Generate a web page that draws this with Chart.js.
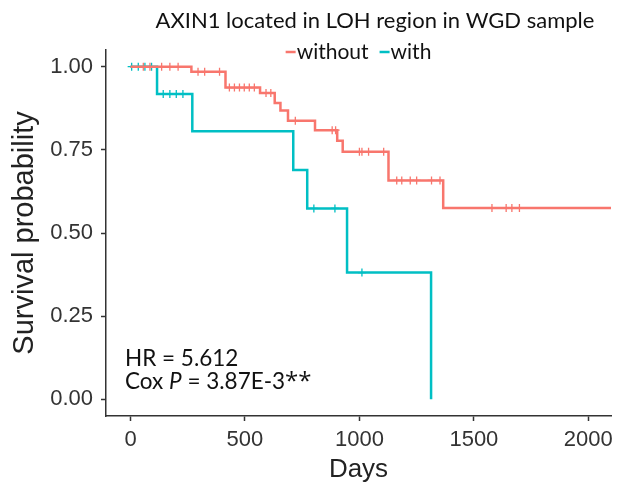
<!DOCTYPE html>
<html>
<head>
<meta charset="utf-8">
<script src="https://cdn.jsdelivr.net/npm/chart.js@4/dist/chart.umd.min.js"></script>
<style>
  html, body { margin: 0; background: #fff; }
  #wrap { width: 618px; height: 485px; }
</style>
</head>
<body>
<div id="wrap"><canvas id="km"></canvas></div>
<script>
// Kaplan-Meier steps
const withoutDays = [0, 266, 415, 566, 630, 655, 688, 806, 903, 927, 1127, 1366, 2099];
const withoutSurv = [1, 0.985, 0.937, 0.921, 0.891, 0.868, 0.837, 0.809, 0.777, 0.744, 0.658, 0.575, 0.575];
const withDays = [0, 116, 270, 711, 772, 946, 1313];
const withSurv = [1, 0.918, 0.806, 0.689, 0.574, 0.381, 0];

// censored observations (days), with the survival level they sit on
const withoutCensorDays = [56, 85, 136, 172, 208, 295, 324, 389, 432, 454, 476, 497, 519, 541, 592, 613, 720, 881, 896, 1000, 1011, 1040, 1106, 1163, 1185, 1222, 1250, 1315, 1352, 1579, 1641, 1666, 1699];
const withoutCensorSurv = [1, 1, 1, 1, 1, 0.985, 0.985, 0.985, 0.937, 0.937, 0.937, 0.937, 0.937, 0.937, 0.921, 0.921, 0.837, 0.809, 0.809, 0.744, 0.744, 0.744, 0.744, 0.658, 0.658, 0.658, 0.658, 0.658, 0.658, 0.575, 0.575, 0.575, 0.575];
const withCensorDays = [5, 34, 63, 92, 143, 172, 200, 229, 801, 893, 1011];
const withCensorSurv = [1, 1, 1, 1, 0.918, 0.918, 0.918, 0.918, 0.574, 0.574, 0.381];

const xTicks = [0, 500, 1000, 1500, 2000];
const yTicks = [0, 0.25, 0.5, 0.75, 1];

const RED = '#F8766D';
const TEAL = '#00BFC4';
const AXIS = '#333333';

const toPoints = (xs, ys) => xs.map((x, i) => ({ x: x, y: ys[i] }));

const titlePlugin = {
  id: 'kmTitle',
  afterDraw(chart) {
    const ctx = chart.ctx;
    ctx.save();
    ctx.fillStyle = '#111';
    ctx.font = '22px Lato';
    ctx.textAlign = 'center';
    ctx.textBaseline = 'alphabetic';
    ctx.fillText('AXIN1 located in LOH region in WGD sample', 375, 28);

    // legend: short coloured line + label for each curve
    const items = chart.data.datasets.filter(d => d.type === 'line');
    ctx.font = '21px Lato';
    const mark = 10, gap = 1, spacing = 11;
    const widths = items.map(d => mark + gap + ctx.measureText(d.label).width);
    const total = widths.reduce((a, b) => a + b, 0) + spacing * (items.length - 1);
    let x = 358.5 - total / 2;
    const y = 52;
    ctx.textAlign = 'left';
    ctx.textBaseline = 'middle';
    items.forEach((d, i) => {
      ctx.strokeStyle = d.borderColor;
      ctx.lineWidth = 2.5;
      ctx.beginPath();
      ctx.moveTo(x, y);
      ctx.lineTo(x + mark, y);
      ctx.stroke();
      ctx.fillStyle = '#111';
      ctx.fillText(d.label, x + mark + gap, y);
      x += widths[i] + spacing;
    });

    // HR / Cox P annotation
    const left = chart.chartArea.left + 19;
    ctx.textBaseline = 'alphabetic';
    ctx.font = '22.5px Lato';
    ctx.fillText('HR = 5.612', left, 366);
    let cx = left;
    const parts = [['Cox ', '22.5px Lato'], ['P', 'italic 22.5px Lato'], [' = 3.87E-3', '22.5px Lato'], ['**', '24px "Open Sans"']];
    parts.forEach(p => {
      ctx.font = p[1];
      ctx.fillText(p[0], cx, 389);
      cx += ctx.measureText(p[0]).width;
    });
    ctx.restore();
  }
};

new Chart(document.getElementById('km'), {
  type: 'line',
  data: {
    datasets: [
      {
        type: 'line',
        label: 'without',
        data: toPoints(withoutDays, withoutSurv),
        stepped: 'before',
        borderColor: RED,
        borderWidth: 2.5,
        pointRadius: 0,
        fill: false
      },
      {
        type: 'line',
        label: 'with',
        data: toPoints(withDays, withSurv),
        stepped: 'before',
        borderColor: TEAL,
        borderWidth: 2.5,
        pointRadius: 0,
        fill: false
      },
      {
        type: 'scatter',
        label: 'without censored',
        data: toPoints(withoutCensorDays, withoutCensorSurv),
        pointStyle: 'cross',
        pointRadius: 4,
        borderColor: RED,
        borderWidth: 1.3
      },
      {
        type: 'scatter',
        label: 'with censored',
        data: toPoints(withCensorDays, withCensorSurv),
        pointStyle: 'cross',
        pointRadius: 4,
        borderColor: TEAL,
        borderWidth: 1.3
      }
    ]
  },
  options: {
    responsive: true,
    maintainAspectRatio: false,
    animation: false,
    layout: { padding: { top: 50, right: 7, left: 0, bottom: 0 } },
    plugins: {
      legend: { display: false },
      title: { display: false },
      tooltip: { enabled: false }
    },
    scales: {
      x: {
        type: 'linear',
        min: -107,
        max: 2099,
        afterFit: s => { s.height = 69; s.paddingLeft = 0; s.paddingRight = 0; },
        afterBuildTicks: s => { s.ticks = xTicks.map(v => ({ value: v })); },
        ticks: {
          color: AXIS,
          font: { family: 'Liberation Sans', size: 22 },
          padding: 6,
          maxRotation: 0,
          callback: v => String(v)
        },
        grid: { display: true, drawOnChartArea: false, drawTicks: true, tickLength: 5, tickColor: AXIS, tickWidth: 1.5 },
        border: { display: true, color: AXIS, width: 1.5 },
        title: {
          display: true,
          text: 'Days',
          color: '#222',
          font: { family: 'Liberation Sans', size: 26 },
          padding: { top: 6, bottom: 0 }
        }
      },
      y: {
        min: -0.05,
        max: 1.05,
        afterFit: s => { s.width = 106; },
        afterBuildTicks: s => { s.ticks = yTicks.map(v => ({ value: v })); },
        ticks: {
          color: AXIS,
          font: { family: 'Liberation Sans', size: 22 },
          padding: 8,
          callback: v => v.toFixed(2)
        },
        grid: { display: true, drawOnChartArea: false, drawTicks: true, tickLength: 5, tickColor: AXIS, tickWidth: 1.5 },
        border: { display: true, color: AXIS, width: 1.5 },
        title: {
          display: true,
          text: 'Survival probability',
          color: '#222',
          font: { family: 'Liberation Sans', size: 29 },
          padding: { top: 8, bottom: 0 }
        }
      }
    }
  },
  plugins: [titlePlugin]
});
</script>
</body>
</html>
